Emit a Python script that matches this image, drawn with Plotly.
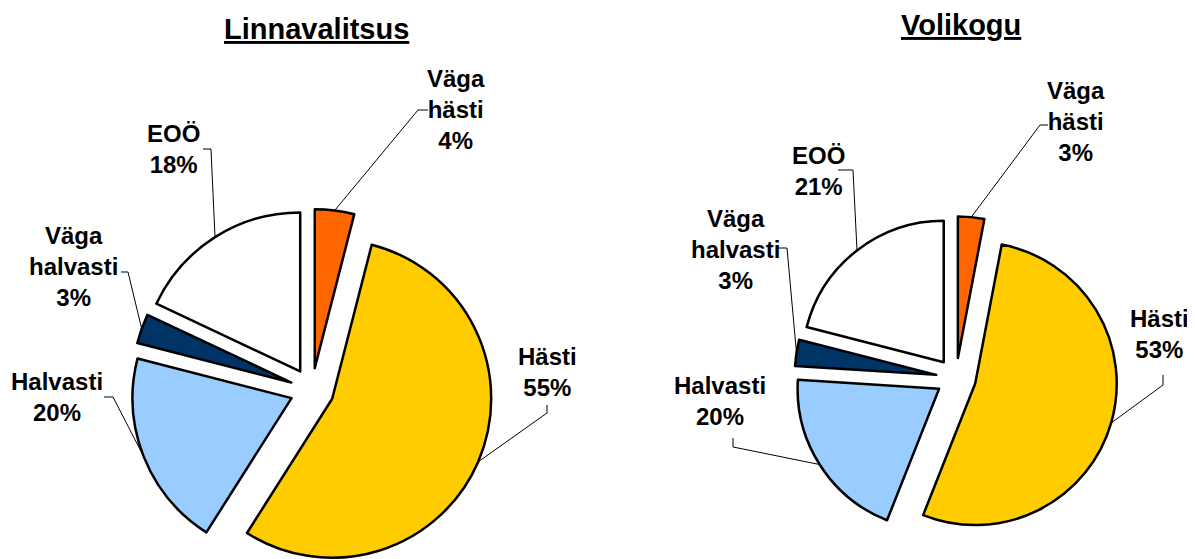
import math
import plotly.graph_objects as go

# Data
categories = ['Väga hästi', 'Hästi', 'Halvasti', 'Väga halvasti', 'EOÖ']
linnavalitsus = [4, 55, 20, 3, 18]
volikogu = [3, 53, 20, 3, 21]
colors = ['#FF6600', '#FFCC00', '#99CCFF', '#003366', '#FFFFFF']

W, H = 1195, 559
OFF = 8  # page body margin, the figure starts 8px in
FONT = 'Arial, Liberation Sans, sans-serif'

# pie geometry in pixels (center, radius, explode distance), label centres and leader elbows
pies = [
    dict(title='Linnavalitsus', values=linnavalitsus, cx=312, cy=390, r=159, d=22,
         title_xy=(316, 29),
         labels=[(456, 110), (547, 372), (57, 397), (73, 266), (173, 149)],
         elbows=[[(428, 110), (418, 110)], [(547, 405), (547, 413)], [(104, 397), (113, 397)],
                 [(121, 272), (128, 272)], [(203, 149), (211, 149)]]),
    dict(title='Volikogu', values=volikogu, cx=956, cy=378, r=141.5, d=20,
         title_xy=(961, 25),
         labels=[(1076, 121), (1159, 334), (720, 401), (735, 249), (818, 171)],
         elbows=[[(1048, 125), (1040, 125)], [(1163, 375), (1163, 385)], [(733, 438), (733, 447)],
                 [(777, 248), (787, 248)], [(838, 170), (853, 170)]]),
]


def px(x):
    return (x - OFF) / W


def py(y):
    return 1 - (y - OFF) / H


fig = go.Figure()
annotations = []
shapes = []

for pie in pies:
    vals = pie['values']
    total = sum(vals)
    start = 0
    for i, v in enumerate(vals):
        mid = math.radians((start + v / 2) / total * 360)
        start += v
        dx, dy = math.sin(mid), -math.cos(mid)
        # each slice is its own pie trace, moved out along its bisector
        sx = pie['cx'] + pie['d'] * dx
        sy = pie['cy'] + pie['d'] * dy
        r = pie['r']
        fig.add_trace(go.Pie(
            values=vals, labels=categories, sort=False, direction='clockwise', rotation=0,
            marker=dict(colors=[c if j == i else 'rgba(0,0,0,0)' for j, c in enumerate(colors)],
                        line=dict(color=['#000000' if j == i else 'rgba(0,0,0,0)' for j in range(len(vals))],
                                  width=[2.5 if j == i else 0 for j in range(len(vals))])),
            textinfo='none', hoverinfo='skip', showlegend=False,
            domain=dict(x=[px(sx - r), px(sx + r)], y=[py(sy + r), py(sy - r)]),
        ))

        # label
        lx, ly = pie['labels'][i]
        text = '<br>'.join(categories[i].split()) + f'<br>{v}%'
        annotations.append(dict(x=px(lx), y=py(ly), xref='paper', yref='paper', text=f'<b>{text}</b>',
                                showarrow=False, xanchor='center', yanchor='middle',
                                font=dict(family=FONT, size=24, color='black')))

        # leader line to the middle of the slice arc
        ex = pie['cx'] + (pie['d'] + r) * dx
        ey = pie['cy'] + (pie['d'] + r) * dy
        pts = pie['elbows'][i] + [(ex, ey)]
        path = 'M ' + ' L '.join(f'{px(x):.5f} {py(y):.5f}' for x, y in pts)
        shapes.append(dict(type='path', path=path, xref='paper', yref='paper',
                           line=dict(color='black', width=1)))

    tx, ty = pie['title_xy']
    annotations.append(dict(x=px(tx), y=py(ty), xref='paper', yref='paper',
                            text=f"<b><u>{pie['title']}</u></b>", showarrow=False,
                            xanchor='center', yanchor='middle',
                            font=dict(family=FONT, size=29, color='black')))

fig.update_layout(
    width=W, height=H,
    margin=dict(l=0, r=0, t=0, b=0),
    paper_bgcolor='white', plot_bgcolor='white',
    annotations=annotations, shapes=shapes,
)

fig.write_html('out.html')
